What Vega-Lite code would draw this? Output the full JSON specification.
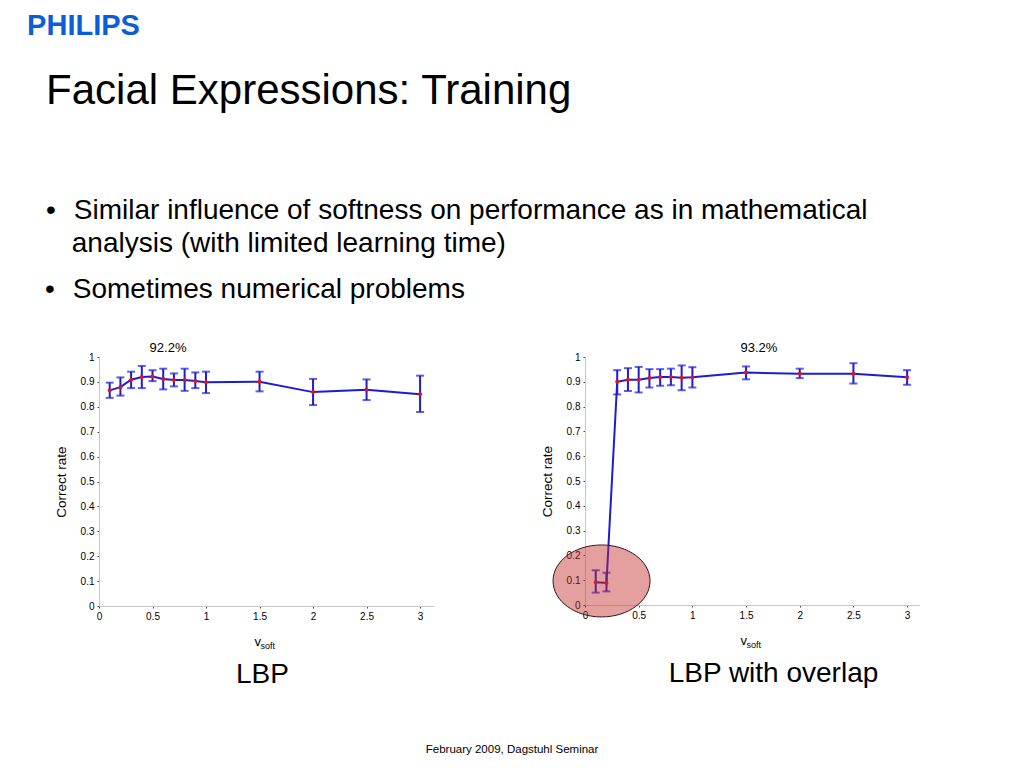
{
  "$schema": "https://vega.github.io/schema/vega-lite/v6.json",
  "background": "white",
  "padding": {"left": 27, "top": 11, "right": 0, "bottom": 0},
  "config": {
    "font": "Liberation Sans",
    "view": {"stroke": null},
    "axis": {
      "grid": false,
      "domainColor": "#c8c8c8",
      "tickColor": "#444444",
      "tickSize": 2,
      "labelFontSize": 10,
      "labelColor": "#000000",
      "labelFont": "Liberation Sans",
      "titleFont": "Liberation Sans",
      "titleFontWeight": "normal",
      "titleColor": "#000000"
    },
    "title": {"font": "Liberation Sans", "fontWeight": "normal", "color": "#000000"}
  },
  "datasets": {
    "lbp": [
      {"v": 0.1, "rate": 0.866, "lo": 0.836, "hi": 0.897},
      {"v": 0.2, "rate": 0.879, "lo": 0.845, "hi": 0.918},
      {"v": 0.3, "rate": 0.909, "lo": 0.875, "hi": 0.941},
      {"v": 0.4, "rate": 0.920, "lo": 0.875, "hi": 0.964},
      {"v": 0.5, "rate": 0.922, "lo": 0.903, "hi": 0.947},
      {"v": 0.6, "rate": 0.912, "lo": 0.870, "hi": 0.953},
      {"v": 0.7, "rate": 0.908, "lo": 0.882, "hi": 0.934},
      {"v": 0.8, "rate": 0.908, "lo": 0.864, "hi": 0.953},
      {"v": 0.9, "rate": 0.904, "lo": 0.875, "hi": 0.938},
      {"v": 1.0, "rate": 0.899, "lo": 0.855, "hi": 0.941},
      {"v": 1.5, "rate": 0.901, "lo": 0.862, "hi": 0.941},
      {"v": 2.0, "rate": 0.859, "lo": 0.807, "hi": 0.912},
      {"v": 2.5, "rate": 0.868, "lo": 0.827, "hi": 0.910},
      {"v": 3.0, "rate": 0.850, "lo": 0.779, "hi": 0.925}
    ],
    "overlap": [
      {"v": 0.1, "rate": 0.092, "lo": 0.050, "hi": 0.140},
      {"v": 0.2, "rate": 0.089, "lo": 0.055, "hi": 0.130},
      {"v": 0.3, "rate": 0.900, "lo": 0.849, "hi": 0.947},
      {"v": 0.4, "rate": 0.908, "lo": 0.863, "hi": 0.955},
      {"v": 0.5, "rate": 0.908, "lo": 0.857, "hi": 0.960},
      {"v": 0.6, "rate": 0.915, "lo": 0.877, "hi": 0.951},
      {"v": 0.7, "rate": 0.919, "lo": 0.884, "hi": 0.951},
      {"v": 0.8, "rate": 0.919, "lo": 0.886, "hi": 0.953},
      {"v": 0.9, "rate": 0.916, "lo": 0.866, "hi": 0.966},
      {"v": 1.0, "rate": 0.918, "lo": 0.877, "hi": 0.959},
      {"v": 1.5, "rate": 0.937, "lo": 0.910, "hi": 0.962},
      {"v": 2.0, "rate": 0.932, "lo": 0.915, "hi": 0.953},
      {"v": 2.5, "rate": 0.932, "lo": 0.893, "hi": 0.975},
      {"v": 3.0, "rate": 0.918, "lo": 0.888, "hi": 0.947}
    ]
  },
  "title": {
    "text": "PHILIPS",
    "anchor": "start",
    "frame": "bounds",
    "fontSize": 29,
    "fontWeight": "bold",
    "color": "#0b5ed7",
    "dx": -18,
    "offset": 29
  },
  "vconcat": [
    {
      "title": {
        "text": "Facial Expressions: Training",
        "subtitle": [
          "•\u00a0\u00a0\u200aSimilar influence of softness on performance as in mathematical",
          "\u200b\u00a0\u00a0\u00a0\u200aanalysis (with limited learning time)"
        ],
        "anchor": "start",
        "frame": "bounds",
        "fontSize": 42,
        "fontWeight": "normal",
        "subtitleFontSize": 28,
        "subtitleColor": "#000000",
        "subtitleFont": "Liberation Sans",
        "subtitleLineHeight": 33.4,
        "subtitlePadding": 84,
        "dx": 1,
        "offset": 17
      },
      "vconcat": [
        {
          "title": {
            "text": "•\u00a0\u00a0\u200aSometimes numerical problems",
            "anchor": "start",
            "frame": "bounds",
            "fontSize": 28,
            "dx": -9,
            "offset": 38
          },
          "vconcat": [
            {
              "title": {
                "text": "February 2009, Dagstuhl Seminar",
                "orient": "bottom",
                "anchor": "middle",
                "frame": "bounds",
                "fontSize": 11.5,
                "offset": 55,
                "dx": 25
              },
              "spacing": 106,
              "hconcat": [
                {
                  "width": 335,
                  "height": 249,
                  "data": {"name": "lbp"},
                  "title": {"text": "LBP", "orient": "bottom", "fontSize": 28, "offset": 10, "dx": -4},
                  "encoding": {
                    "x": {
                      "field": "v",
                      "type": "quantitative",
                      "scale": {"domain": [0, 3.13], "nice": false, "zero": false},
                      "axis": {
                        "title": null,
                        "values": [0, 0.5, 1, 1.5, 2, 2.5, 3],
                        "tickCount": 12,
                        "format": "~g",
                        "labelFlush": false,
                        "labelPadding": 3
                      }
                    }
                  },
                  "layer": [
                    {
                      "mark": {"type": "line", "color": "#1c1cd8", "strokeWidth": 2},
                      "encoding": {
                        "y": {
                          "field": "rate",
                          "type": "quantitative",
                          "scale": {"domain": [0, 1], "nice": false},
                          "axis": {
                            "title": "Correct rate",
                            "titleFontSize": 13.5,
                            "titlePadding": 12,
                            "values": [0, 0.1, 0.2, 0.3, 0.4, 0.5, 0.6, 0.7, 0.8, 0.9, 1],
                            "tickCount": 12,
                            "format": "~g",
                            "labelOverlap": false,
                            "labelPadding": 3
                          }
                        }
                      }
                    },
                    {
                      "mark": {"type": "errorbar", "color": "#1c1cd8", "thickness": 2, "ticks": {"size": 8, "thickness": 2}},
                      "encoding": {
                        "y": {"field": "lo", "type": "quantitative", "title": "Correct rate"},
                        "y2": {"field": "hi"}
                      }
                    },
                    {
                      "mark": {"type": "point", "filled": true, "color": "#e8101a", "opacity": 1, "size": 16},
                      "encoding": {"y": {"field": "rate", "type": "quantitative", "title": "Correct rate"}}
                    },
                    {
                      "data": {"values": [{"v": 0.645, "rate": 1, "label": "92.2%"}]},
                      "mark": {"type": "text", "fontSize": 13, "baseline": "bottom", "dy": -2},
                      "encoding": {"y": {"field": "rate", "type": "quantitative", "title": "Correct rate"}, "text": {"field": "label"}}
                    },
                    {
                      "data": {"values": [{"v": 1.565, "rate": 0, "label": "v"}]},
                      "mark": {"type": "text", "fontSize": 13, "align": "left", "baseline": "alphabetic", "dx": -12, "dy": 40},
                      "encoding": {"y": {"field": "rate", "type": "quantitative", "title": "Correct rate"}, "text": {"field": "label"}}
                    },
                    {
                      "data": {"values": [{"v": 1.565, "rate": 0, "label": "soft"}]},
                      "mark": {"type": "text", "fontSize": 9, "align": "left", "baseline": "alphabetic", "dx": -6, "dy": 43},
                      "encoding": {"y": {"field": "rate", "type": "quantitative", "title": "Correct rate"}, "text": {"field": "label"}}
                    }
                  ]
                },
                {
                  "width": 335,
                  "height": 248,
                  "data": {"name": "overlap"},
                  "title": {"text": "LBP with overlap", "orient": "bottom", "fontSize": 28, "offset": 10, "dx": 21},
                  "encoding": {
                    "x": {
                      "field": "v",
                      "type": "quantitative",
                      "scale": {"domain": [0, 3.12], "nice": false, "zero": false},
                      "axis": {
                        "title": null,
                        "values": [0, 0.5, 1, 1.5, 2, 2.5, 3],
                        "tickCount": 12,
                        "format": "~g",
                        "labelFlush": false,
                        "labelPadding": 3
                      }
                    }
                  },
                  "layer": [
                    {
                      "mark": {"type": "line", "color": "#1c1cd8", "strokeWidth": 2},
                      "encoding": {
                        "y": {
                          "field": "rate",
                          "type": "quantitative",
                          "scale": {"domain": [0, 1], "nice": false},
                          "axis": {
                            "title": "Correct rate",
                            "titleFontSize": 13.5,
                            "titlePadding": 12,
                            "values": [0, 0.1, 0.2, 0.3, 0.4, 0.5, 0.6, 0.7, 0.8, 0.9, 1],
                            "tickCount": 12,
                            "format": "~g",
                            "labelOverlap": false,
                            "labelPadding": 3
                          }
                        }
                      }
                    },
                    {
                      "mark": {"type": "errorbar", "color": "#1c1cd8", "thickness": 2, "ticks": {"size": 8, "thickness": 2}},
                      "encoding": {
                        "y": {"field": "lo", "type": "quantitative", "title": "Correct rate"},
                        "y2": {"field": "hi"}
                      }
                    },
                    {
                      "mark": {"type": "point", "filled": true, "color": "#e8101a", "opacity": 1, "size": 16},
                      "encoding": {"y": {"field": "rate", "type": "quantitative", "title": "Correct rate"}}
                    },
                    {
                      "data": {"values": [{"v": 1.62, "rate": 1, "label": "93.2%"}]},
                      "mark": {"type": "text", "fontSize": 13, "baseline": "bottom", "dy": -2},
                      "encoding": {"y": {"field": "rate", "type": "quantitative", "title": "Correct rate"}, "text": {"field": "label"}}
                    },
                    {
                      "data": {"values": [{"v": 1.56, "rate": 0, "label": "v"}]},
                      "mark": {"type": "text", "fontSize": 13, "align": "left", "baseline": "alphabetic", "dx": -12, "dy": 40},
                      "encoding": {"y": {"field": "rate", "type": "quantitative", "title": "Correct rate"}, "text": {"field": "label"}}
                    },
                    {
                      "data": {"values": [{"v": 1.56, "rate": 0, "label": "soft"}]},
                      "mark": {"type": "text", "fontSize": 9, "align": "left", "baseline": "alphabetic", "dx": -6, "dy": 43},
                      "encoding": {"y": {"field": "rate", "type": "quantitative", "title": "Correct rate"}, "text": {"field": "label"}}
                    },
                    {
                      "data": {"values": [{"v": 0.154, "rate": 0.097}]},
                      "mark": {
                        "type": "point",
                        "shape": "M-1,0A1,0.742,0,1,0,1,0A1,0.742,0,1,0,-1,0Z",
                        "size": 9409,
                        "filled": true,
                        "fill": "#c42b2b",
                        "fillOpacity": 0.45,
                        "stroke": "#3a1414",
                        "strokeWidth": 1,
                        "strokeOpacity": 1,
                        "opacity": 1
                      },
                      "encoding": {"y": {"field": "rate", "type": "quantitative", "title": "Correct rate"}}
                    }
                  ]
                }
              ]
            }
          ]
        }
      ]
    }
  ]
}
